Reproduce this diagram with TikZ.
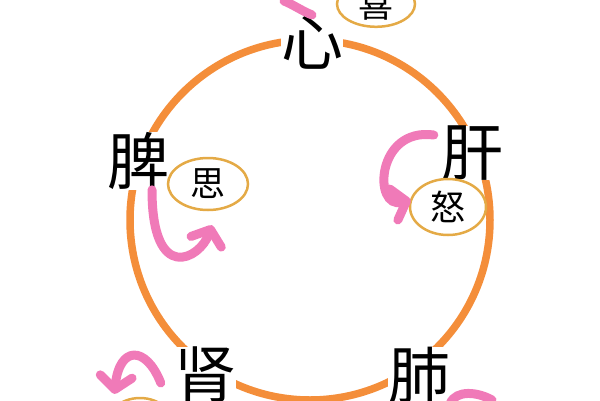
\documentclass[tikz,border=0pt]{standalone}
\usepackage{fontspec}
\newfontfamily\cjk{Noto Sans CJK SC}
\usetikzlibrary{shapes.geometric,arrows.meta}
\definecolor{ring}{RGB}{244,142,58}
\definecolor{hook}{RGB}{240,122,184}
\definecolor{oval}{RGB}{228,170,70}

\begin{document}
\begin{tikzpicture}[x=1pt,y=-1pt,
  organ/.style={fill=white,inner sep=0pt,font=\cjk\fontsize{62}{62}\selectfont},
  mood/.style={ellipse,draw=oval,line width=2.5pt,minimum width=80pt,minimum height=52pt,inner sep=0pt,font=\cjk\fontsize{35}{35}\selectfont},
  hand/.style={draw=hook,line width=9pt,line cap=round},
  hookarrow/.style={hand,-{Straight Barb[length=13pt,width=32pt,round]}}]
\useasboundingbox (0,0) rectangle (600,400);
\draw[draw=ring,line width=7.5pt] (310,220) circle[radius=180pt];

% organs
\node[organ] (xin) at (312,42) {心};
\node[organ] (pi) at (138,161) {脾};
\node[organ] (gan) at (472,153) {肝};
\node[organ] (shen) at (205,375) {肾};
\node[organ] (fei) at (419,375) {肺};

% moods
\node[mood,minimum width=78pt,minimum height=40pt] (xi) at (376,4) {喜};
\node[mood] (si) at (208,184) {思};
\node[mood,minimum width=76pt,minimum height=56pt] (nu) at (448,207) {怒};
\node[mood,minimum width=70pt,minimum height=60pt] (kong) at (140,428) {};

\coordinate (xitail) at (284,1);
\coordinate (feitail) at (492,400);

\draw[hookarrow] ([xshift=14pt]pi.south) .. controls +(0,95) and +(-12,34) .. ([xshift=4pt,yshift=-14pt]si.south);
\draw[hookarrow] ([xshift=-7pt,yshift=18pt]gan.west) .. controls +(-58,-8) and +(-38,10) .. ([xshift=2pt,yshift=7pt]nu.west);
\draw[hookarrow] ([xshift=-13pt,yshift=-8pt]shen.west) .. controls +(-15,-38) and +(5,-48) .. ([yshift=12pt]kong.north west);
\draw[hand] (fei.south east) .. controls +(6,-14) and +(-14,-8) .. (feitail);
\draw[hand] (xin.north) .. controls +(-10,-4) and +(8,3) .. (xitail);
\end{tikzpicture}
\end{document}
